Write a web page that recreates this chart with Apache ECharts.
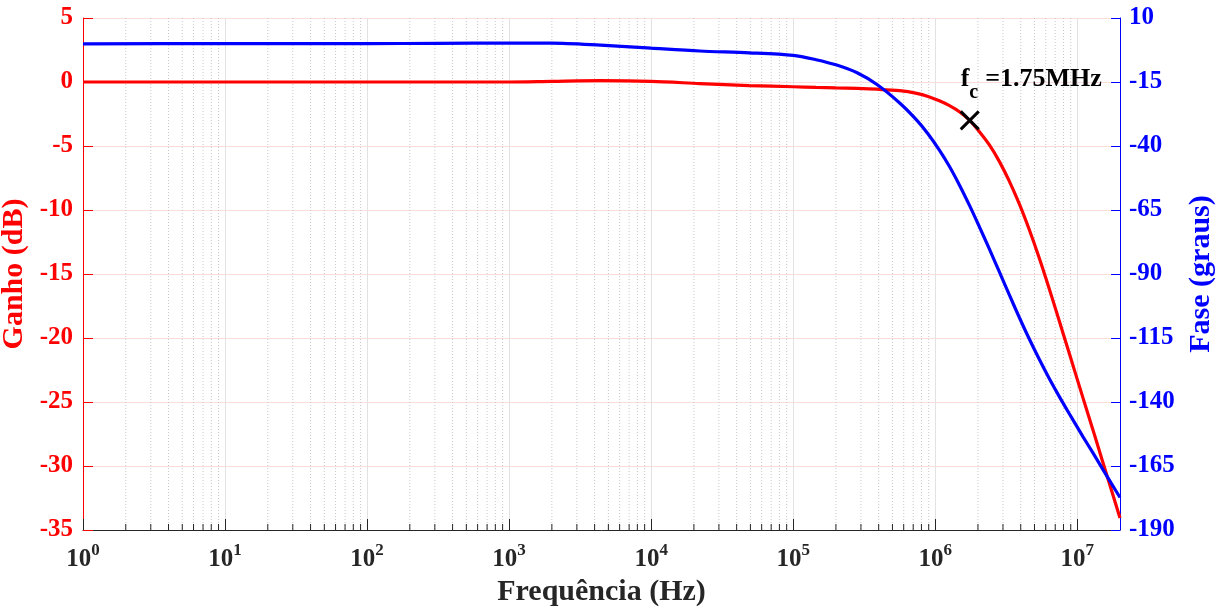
<!DOCTYPE html>
<html>
<head>
<meta charset="utf-8">
<script src="https://cdn.jsdelivr.net/npm/echarts@6/dist/echarts.min.js"></script>
<style>html,body{margin:0;padding:0;background:#fff}#c{width:1216px;height:613px}</style>
</head>
<body>
<div id="c"></div>
<script>
// Frequency (Hz)
const freq = [1, 10, 100, 316, 1000, 2000, 4400, 10000, 22000, 49000, 100000, 145000, 200000, 282000, 389000, 562000, 741000, 891000, 1070000, 1260000, 1480000, 1750000, 2040000, 2400000, 2820000, 3310000, 3890000, 4570000, 5370000, 6310000, 7410000, 8710000, 10960000, 12900000, 15140000, 17380000, 20000000];
// Gain (dB)
const gain = [0, 0, 0, 0, 0, 0.05, 0.1, 0.05, -0.12, -0.28, -0.37, -0.42, -0.46, -0.5, -0.56, -0.68, -0.89, -1.13, -1.47, -1.85, -2.32, -3.0, -3.87, -4.9, -6.18, -7.7, -9.47, -11.47, -13.67, -16.05, -18.54, -21.06, -24.66, -27.18, -29.7, -31.86, -34.06];
// Phase (degrees)
const phase = [-0.1, 0, 0, 0.1, 0.2, 0.2, -0.6, -1.8, -2.9, -3.6, -4.6, -6.3, -8.3, -11.4, -16.0, -23.2, -29.9, -35.3, -41.6, -48.0, -55.2, -63.4, -71.4, -80.1, -89.0, -97.9, -106.7, -115.1, -123.0, -130.5, -137.5, -144.2, -153.5, -159.9, -166.3, -171.8, -177.3];
// Cut-off marker
const cutoff = [[1750000, -3]];
const cutoffLabel = ['f', 'c', ' =1.75MHz'];
// Axis ticks
const gainTicks = [5, 0, -5, -10, -15, -20, -25, -30, -35];
const phaseTicks = [10, -15, -40, -65, -90, -115, -140, -165, -190];
const decades = [0, 1, 2, 3, 4, 5, 6, 7];
const minorMultipliers = [2, 3, 4, 5, 6, 7, 8, 9];

const FONT = 'Liberation Serif, Times New Roman, serif';
const X_MIN = 1, X_MAX = 20000000;

const minorVals = [];
decades.forEach(d => minorMultipliers.forEach(m => {
  const v = m * Math.pow(10, d);
  if (v < X_MAX) minorVals.push([v, gainTicks[gainTicks.length - 1]]);
}));

const chart = echarts.init(document.getElementById('c'), null, {renderer: 'canvas'});
chart.setOption({
  animation: false,
  backgroundColor: '#ffffff',
  grid: {left: 83, right: 96, top: 18, bottom: 83, containLabel: false, outerBoundsMode: 'none'},
  xAxis: {
    type: 'log', logBase: 10, min: X_MIN, max: X_MAX,
    name: 'Frequência (Hz)', nameLocation: 'middle', nameGap: 42,
    nameTextStyle: {fontFamily: FONT, fontWeight: 'bold', fontSize: 30, color: '#262626'},
    axisLine: {show: true, onZero: false, lineStyle: {color: '#262626', width: 1}},
    axisTick: {show: true, inside: true, length: 11, lineStyle: {color: '#262626'}},
    splitLine: {show: true, lineStyle: {color: '#e2e2e2', width: 1}},
    axisLabel: {
      margin: 12, showMaxLabel: false, showMinLabel: true,
      formatter: v => '{b|10}{s|' + Math.round(Math.log10(v)) + '}',
      rich: {
        b: {fontFamily: FONT, fontWeight: 'bold', fontSize: 25, color: '#262626', lineHeight: 30, verticalAlign: 'bottom'},
        s: {fontFamily: FONT, fontWeight: 'bold', fontSize: 17, color: '#262626', lineHeight: 17, verticalAlign: 'top'}
      }
    }
  },
  yAxis: [{
    type: 'value', min: -35, max: 5, interval: 5, position: 'left',
    name: 'Ganho (dB)', nameLocation: 'middle', nameGap: 37, nameRotate: 90,
    nameTextStyle: {fontFamily: FONT, fontWeight: 'bold', fontSize: 30, color: '#ff0000'},
    axisLine: {show: true, onZero: false, lineStyle: {color: '#ff0000', width: 1}},
    axisTick: {show: true, inside: true, length: 10, lineStyle: {color: '#ff0000'}},
    splitLine: {show: true, lineStyle: {color: '#ffdcdc', width: 1}},
    axisLabel: {margin: 10, padding: [4, 0, 0, 0], fontFamily: FONT, fontWeight: 'bold', fontSize: 25, color: '#ff0000'}
  }, {
    type: 'value', min: -190, max: 10, position: 'right',
    name: 'Fase (graus)', nameLocation: 'middle', nameGap: 66, nameRotate: 90,
    nameTextStyle: {fontFamily: FONT, fontWeight: 'bold', fontSize: 30, color: '#0000ff'},
    axisLine: {show: true, onZero: false, lineStyle: {color: '#0000ff', width: 1}},
    axisTick: {show: true, inside: true, length: 9, customValues: phaseTicks, lineStyle: {color: '#0000ff'}},
    splitLine: {show: false},
    axisLabel: {margin: 9, padding: [4, 0, 0, 0], customValues: phaseTicks, fontFamily: FONT, fontWeight: 'bold', fontSize: 25, color: '#0000ff'}
  }],
  series: [{
    type: 'custom', name: 'minor', xAxisIndex: 0, yAxisIndex: 0, z: 1, silent: true,
    data: minorVals,
    renderItem: (params, api) => {
      const x = api.value(0);
      const top = api.coord([x, gainTicks[0]]);
      const bot = api.coord([x, gainTicks[gainTicks.length - 1]]);
      return {type: 'group', children: [
        {type: 'line', shape: {x1: top[0], y1: top[1], x2: bot[0], y2: bot[1]}, style: {stroke: '#c8c8c8', lineWidth: 1, lineDash: [1, 2]}},
        {type: 'line', shape: {x1: bot[0], y1: bot[1], x2: bot[0], y2: bot[1] - 6}, style: {stroke: '#262626', lineWidth: 1}}
      ]};
    }
  }, {
    type: 'line', name: 'Ganho', xAxisIndex: 0, yAxisIndex: 0, z: 3,
    data: freq.map((f, i) => [f, gain[i]]),
    showSymbol: false, smooth: 0.3,
    lineStyle: {color: '#ff0000', width: 3.2}
  }, {
    type: 'line', name: 'Fase', xAxisIndex: 0, yAxisIndex: 1, z: 4,
    data: freq.map((f, i) => [f, phase[i]]),
    showSymbol: false, smooth: 0.3,
    lineStyle: {color: '#0000ff', width: 3.2}
  }, {
    type: 'custom', name: 'fc', xAxisIndex: 0, yAxisIndex: 0, z: 5, silent: true,
    data: cutoff,
    renderItem: (params, api) => {
      const p = api.coord([api.value(0), api.value(1)]);
      const s = 9;
      const ts = {fontFamily: FONT, fontWeight: 'bold', fill: '#000', textAlign: 'left', textVerticalAlign: 'bottom'};
      return {type: 'group', children: [
        {type: 'line', shape: {x1: p[0] - s, y1: p[1] - s, x2: p[0] + s, y2: p[1] + s}, style: {stroke: '#000', lineWidth: 3}},
        {type: 'line', shape: {x1: p[0] - s, y1: p[1] + s, x2: p[0] + s, y2: p[1] - s}, style: {stroke: '#000', lineWidth: 3}},
        {type: 'text', x: p[0] - 9, y: p[1] - 28, style: Object.assign({}, ts, {text: cutoffLabel[0], fontSize: 26})},
        {type: 'text', x: p[0] - 0.5, y: p[1] - 18, style: Object.assign({}, ts, {text: cutoffLabel[1], fontSize: 20})},
        {type: 'text', x: p[0] + 9, y: p[1] - 28, style: Object.assign({}, ts, {text: cutoffLabel[2], fontSize: 26})}
      ]};
    }
  }]
});
</script>
</body>
</html>
